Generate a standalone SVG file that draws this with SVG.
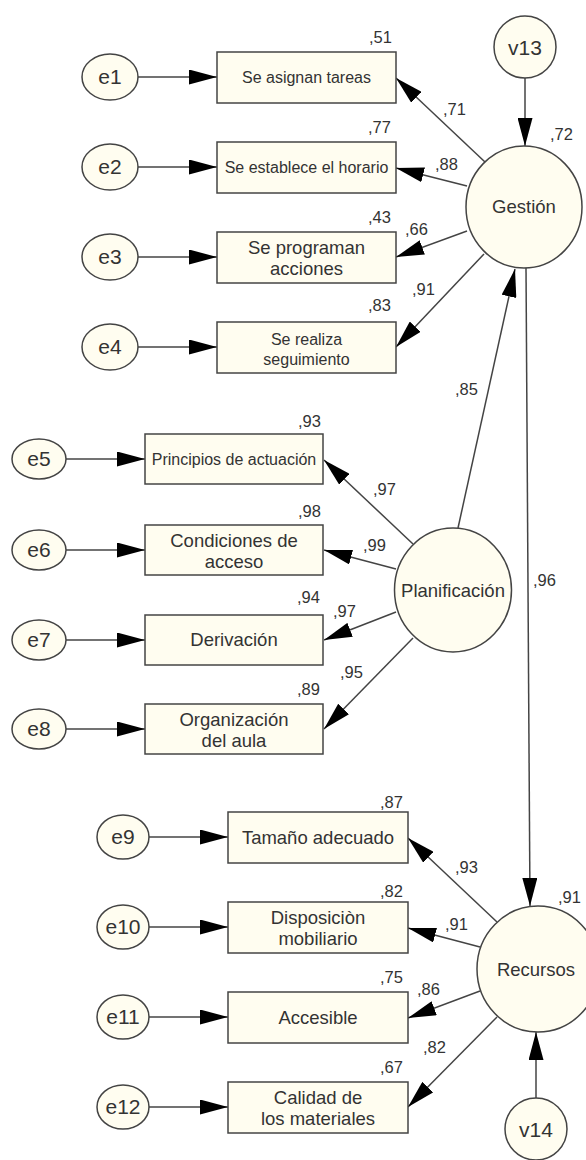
<svg xmlns="http://www.w3.org/2000/svg" width="586" height="1160" viewBox="0 0 586 1160">
<defs>
<marker id="ah" markerUnits="userSpaceOnUse" markerWidth="28" markerHeight="15" refX="28" refY="7.5" orient="auto" viewBox="0 0 28 15">
<path d="M0,0 L28,7.5 L0,15 Z" fill="#000"/>
</marker>
<style>
.box{fill:#fffdf0;stroke:#444;stroke-width:1.5}
.lat{fill:#fffdf0;stroke:#444;stroke-width:1.5}
.t{font-family:"Liberation Sans",Arial,sans-serif;fill:#333;text-anchor:middle}
.s{font-size:16px}
.m{font-size:18.5px}
.e{font-size:21px}
.lb{font-family:"Liberation Sans",Arial,sans-serif;fill:#333;font-size:16.5px}
.c line{stroke:#444;stroke-width:1.5;marker-end:url(#ah)}
</style>
</defs>
<rect width="586" height="1160" fill="#fff"/>

<g class="c" id="connectors">
<line x1="138" y1="77" x2="217" y2="77"/>
<line x1="138" y1="167" x2="217" y2="167"/>
<line x1="138" y1="257" x2="217" y2="257"/>
<line x1="138" y1="347" x2="217" y2="347"/>
<line x1="485" y1="162" x2="396" y2="78"/>
<line x1="467" y1="186" x2="396" y2="168"/>
<line x1="467" y1="231" x2="396" y2="257"/>
<line x1="484" y1="254" x2="396" y2="347"/>
<line x1="525" y1="78" x2="525" y2="146"/>
<line x1="458" y1="528" x2="515" y2="269"/>
<line x1="526" y1="268" x2="530" y2="906"/>
<line x1="66" y1="459" x2="145" y2="459"/>
<line x1="66" y1="550" x2="145" y2="550"/>
<line x1="66" y1="640" x2="145" y2="640"/>
<line x1="66" y1="729" x2="145" y2="729"/>
<line x1="413" y1="544" x2="324" y2="460"/>
<line x1="396" y1="569" x2="324" y2="550"/>
<line x1="396" y1="612" x2="324" y2="640"/>
<line x1="413" y1="638" x2="324" y2="729"/>
<line x1="149" y1="837" x2="228" y2="837"/>
<line x1="149" y1="927" x2="228" y2="927"/>
<line x1="149" y1="1017" x2="228" y2="1017"/>
<line x1="149" y1="1107" x2="228" y2="1107"/>
<line x1="497" y1="922" x2="408" y2="838"/>
<line x1="480" y1="947" x2="408" y2="928"/>
<line x1="480" y1="991" x2="408" y2="1018"/>
<line x1="497" y1="1017" x2="408" y2="1107"/>
<line x1="536" y1="1098" x2="536" y2="1032"/>
</g>

<g id="e1"><ellipse class="lat" cx="110" cy="77" rx="28" ry="23"/><text class="t e" x="110" y="84">e1</text></g>
<g id="e2"><ellipse class="lat" cx="110" cy="167" rx="28" ry="23"/><text class="t e" x="110" y="174">e2</text></g>
<g id="e3"><ellipse class="lat" cx="110" cy="257" rx="28" ry="23"/><text class="t e" x="110" y="264">e3</text></g>
<g id="e4"><ellipse class="lat" cx="110" cy="347" rx="28" ry="23"/><text class="t e" x="110" y="354">e4</text></g>

<g id="n1"><rect class="box" x="217" y="52" width="179" height="51"/><text class="t s" x="306.5" y="83">Se asignan tareas</text></g>
<g id="n2"><rect class="box" x="217" y="142" width="179" height="51"/><text class="t s" x="306.5" y="173">Se establece el horario</text></g>
<g id="n3"><rect class="box" x="217" y="232" width="179" height="51"/><text class="t m" x="306.5" y="254">Se programan</text><text class="t m" x="306.5" y="275">acciones</text></g>
<g id="n4"><rect class="box" x="217" y="322" width="179" height="51"/><text class="t s" x="306.5" y="345">Se realiza</text><text class="t s" x="306.5" y="365">seguimiento</text></g>

<g id="v13"><circle class="lat" cx="525" cy="47" r="31"/><text class="t e" x="525" y="55">v13</text></g>
<g id="gestion"><ellipse class="lat" cx="524" cy="207" rx="58" ry="61"/><text class="t m" x="524" y="213">Gestión</text></g>

<g id="e5"><ellipse class="lat" cx="39" cy="459" rx="27" ry="20"/><text class="t e" x="39" y="466">e5</text></g>
<g id="e6"><ellipse class="lat" cx="39" cy="550" rx="27" ry="20"/><text class="t e" x="39" y="557">e6</text></g>
<g id="e7"><ellipse class="lat" cx="39" cy="640" rx="27" ry="20"/><text class="t e" x="39" y="647">e7</text></g>
<g id="e8"><ellipse class="lat" cx="39" cy="729" rx="27" ry="20"/><text class="t e" x="39" y="736">e8</text></g>

<g id="n5"><rect class="box" x="145" y="434" width="178" height="50"/><text class="t s" x="234" y="465">Principios de actuación</text></g>
<g id="n6"><rect class="box" x="145" y="525" width="178" height="50"/><text class="t m" x="234" y="547">Condiciones de</text><text class="t m" x="234" y="568">acceso</text></g>
<g id="n7"><rect class="box" x="145" y="615" width="178" height="50"/><text class="t m" x="234" y="646">Derivación</text></g>
<g id="n8"><rect class="box" x="145" y="704" width="178" height="50"/><text class="t m" x="234" y="726">Organización</text><text class="t m" x="234" y="747">del aula</text></g>

<g id="planificacion"><ellipse class="lat" cx="453" cy="590" rx="58.5" ry="62"/><text class="t m" x="453" y="597">Planificación</text></g>

<g id="e9"><ellipse class="lat" cx="123" cy="837" rx="26" ry="22"/><text class="t e" x="123" y="844">e9</text></g>
<g id="e10"><ellipse class="lat" cx="123" cy="927" rx="26" ry="22"/><text class="t e" x="123" y="934">e10</text></g>
<g id="e11"><ellipse class="lat" cx="123" cy="1017" rx="26" ry="22"/><text class="t e" x="123" y="1024">e11</text></g>
<g id="e12"><ellipse class="lat" cx="123" cy="1107" rx="26" ry="22"/><text class="t e" x="123" y="1114">e12</text></g>

<g id="n9"><rect class="box" x="228" y="812" width="180" height="51"/><text class="t m" x="318" y="844">Tamaño adecuado</text></g>
<g id="n10"><rect class="box" x="228" y="902" width="180" height="51"/><text class="t m" x="318" y="924">Disposiciòn</text><text class="t m" x="318" y="945">mobiliario</text></g>
<g id="n11"><rect class="box" x="228" y="992" width="180" height="51"/><text class="t m" x="318" y="1024">Accesible</text></g>
<g id="n12"><rect class="box" x="228" y="1082" width="180" height="51"/><text class="t m" x="318" y="1104">Calidad de</text><text class="t m" x="318" y="1125">los materiales</text></g>

<g id="recursos"><ellipse class="lat" cx="538" cy="969" rx="61" ry="63"/><text class="t m" x="536" y="976">Recursos</text></g>
<g id="v14"><circle class="lat" cx="536" cy="1129" r="31"/><text class="t e" x="536" y="1137">v14</text></g>

<g id="labels" class="lb">
<text x="369" y="43">,51</text>
<text x="443" y="115">,71</text>
<text x="368" y="133">,77</text>
<text x="435" y="170">,88</text>
<text x="368" y="223">,43</text>
<text x="405" y="235">,66</text>
<text x="412" y="295">,91</text>
<text x="368" y="311">,83</text>
<text x="550" y="140">,72</text>
<text x="455" y="395">,85</text>
<text x="533" y="586">,96</text>
<text x="298" y="427">,93</text>
<text x="373" y="495">,97</text>
<text x="298" y="517">,98</text>
<text x="363" y="551">,99</text>
<text x="297" y="603">,94</text>
<text x="333" y="617">,97</text>
<text x="340" y="678">,95</text>
<text x="297" y="695">,89</text>
<text x="380" y="808">,87</text>
<text x="455" y="873">,93</text>
<text x="380" y="897">,82</text>
<text x="445" y="930">,91</text>
<text x="380" y="983">,75</text>
<text x="417" y="995">,86</text>
<text x="423" y="1053">,82</text>
<text x="380" y="1073">,67</text>
<text x="558" y="903">,91</text>
</g>
</svg>
